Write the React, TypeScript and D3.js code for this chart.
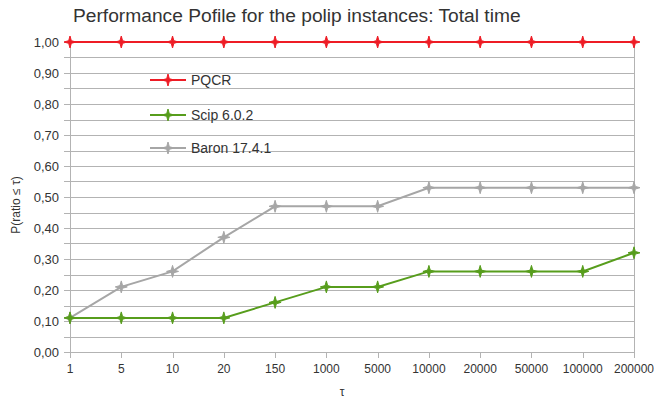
import { useEffect, useRef } from "react";
import * as d3 from "d3";

const categories = ["1", "5", "10", "20", "150", "1000", "5000", "10000", "20000", "50000", "100000", "200000"];
const pqcr = [1, 1, 1, 1, 1, 1, 1, 1, 1, 1, 1, 1];
const scip = [0.11, 0.11, 0.11, 0.11, 0.16, 0.21, 0.21, 0.26, 0.26, 0.26, 0.26, 0.32];
const baron = [0.11, 0.21, 0.26, 0.37, 0.47, 0.47, 0.47, 0.53, 0.53, 0.53, 0.53, 0.53];
const seriesNames = ["PQCR", "Scip 6.0.2", "Baron 17.4.1"];
const seriesColors = ["#ee1c25", "#579d1c", "#a6a6a6"];

const W = 654;
const H = 400;
const M = { top: 42, right: 20, bottom: 48, left: 70 };

// 4-point star marker like the spreadsheet one
const star4 = {
  draw(ctx: d3.Path, size: number) {
    const r = Math.sqrt(size);
    const k = r * 0.22;
    ctx.moveTo(0, -r);
    ctx.lineTo(k, -k);
    ctx.lineTo(r, 0);
    ctx.lineTo(k, k);
    ctx.lineTo(0, r);
    ctx.lineTo(-k, k);
    ctx.lineTo(-r, 0);
    ctx.lineTo(-k, -k);
    ctx.closePath();
  },
};

export default function App() {
  const ref = useRef<SVGSVGElement>(null);

  useEffect(() => {
    if (!ref.current) return;
    const svg = d3.select(ref.current);
    svg.selectAll("*").remove();

    const x = d3.scalePoint<string>().domain(categories).range([M.left, W - M.right]);
    const y = d3.scaleLinear().domain([0, 1]).range([H - M.bottom, M.top]);
    const font = "'Liberation Sans', Arial, sans-serif";

    // grid every 0.05
    const grid = d3.range(0, 21).map((i) => i * 0.05);
    svg.append("g")
      .selectAll("line")
      .data(grid)
      .enter()
      .append("line")
      .attr("x1", M.left - 6)
      .attr("x2", W - M.right)
      .attr("y1", (d) => Math.round(y(d)) + 0.5)
      .attr("y2", (d) => Math.round(y(d)) + 0.5)
      .attr("stroke", "#b3b3b3")
      .attr("stroke-width", 1);

    // axes lines
    svg.append("line")
      .attr("x1", M.left + 0.5).attr("x2", M.left + 0.5)
      .attr("y1", y(1)).attr("y2", y(0))
      .attr("stroke", "#b3b3b3");
    svg.append("line")
      .attr("x1", W - M.right + 0.5).attr("x2", W - M.right + 0.5)
      .attr("y1", y(1)).attr("y2", y(0))
      .attr("stroke", "#b3b3b3");

    // x ticks
    svg.append("g")
      .selectAll("line")
      .data(categories)
      .enter()
      .append("line")
      .attr("x1", (d) => Math.round(x(d)!) + 0.5)
      .attr("x2", (d) => Math.round(x(d)!) + 0.5)
      .attr("y1", y(0))
      .attr("y2", y(0) + 6)
      .attr("stroke", "#b3b3b3");

    svg.append("g")
      .selectAll("text")
      .data(categories)
      .enter()
      .append("text")
      .attr("x", (d) => x(d)!)
      .attr("y", y(0) + 21)
      .attr("text-anchor", "middle")
      .attr("font-family", font)
      .attr("font-size", 12)
      .attr("fill", "#333")
      .text((d) => d);

    // y labels
    const yTicks = d3.range(0, 11).map((i) => i / 10);
    svg.append("g")
      .selectAll("text")
      .data(yTicks)
      .enter()
      .append("text")
      .attr("x", M.left - 11)
      .attr("y", (d) => y(d) + 4.5)
      .attr("text-anchor", "end")
      .attr("font-family", font)
      .attr("font-size", 13)
      .attr("fill", "#333")
      .text((d) => d.toFixed(2).replace(".", ","));

    // series
    const data = [pqcr, scip, baron];
    const line = d3.line<number>()
      .x((_, i) => x(categories[i])!)
      .y((d) => y(d));
    const sym = d3.symbol().type(star4 as any).size(36);

    [2, 1, 0].forEach((s) => {
      const g = svg.append("g");
      g.append("path")
        .attr("d", line(data[s]))
        .attr("fill", "none")
        .attr("stroke", seriesColors[s])
        .attr("stroke-width", 2);
      g.selectAll("path.m")
        .data(data[s])
        .enter()
        .append("path")
        .attr("class", "m")
        .attr("transform", (d, i) => `translate(${x(categories[i])},${y(d)})`)
        .attr("d", sym()!)
        .attr("fill", seriesColors[s])
        .attr("stroke", seriesColors[s])
        .attr("stroke-width", 1);
    });

    // legend
    const legendY = [80, 115, 148];
    seriesNames.forEach((name, s) => {
      const g = svg.append("g").attr("transform", `translate(150,${legendY[s]})`);
      g.append("line")
        .attr("x1", 0).attr("x2", 36)
        .attr("y1", 0).attr("y2", 0)
        .attr("stroke", seriesColors[s])
        .attr("stroke-width", 2);
      g.append("path")
        .attr("transform", "translate(18,0)")
        .attr("d", sym()!)
        .attr("fill", seriesColors[s])
        .attr("stroke", seriesColors[s]);
      g.append("text")
        .attr("x", 41)
        .attr("y", 5)
        .attr("font-family", font)
        .attr("font-size", 14)
        .attr("fill", "#333")
        .text(name);
    });

    // title
    svg.append("text")
      .attr("x", 73)
      .attr("y", 22)
      .attr("font-family", font)
      .attr("font-size", 19.2)
      .attr("fill", "#333")
      .text("Performance Pofile for the polip instances: Total time");

    // axis titles
    svg.append("text")
      .attr("x", (M.left + W - M.right) / 2 - 10)
      .attr("y", 396)
      .attr("text-anchor", "middle")
      .attr("font-family", font)
      .attr("font-size", 12)
      .attr("fill", "#333")
      .text("τ");
    svg.append("text")
      .attr("transform", "translate(20,205) rotate(-90)")
      .attr("text-anchor", "middle")
      .attr("font-family", font)
      .attr("font-size", 12)
      .attr("fill", "#333")
      .text("P(ratio ≤ τ)");
  }, []);

  return (
    <svg
      ref={ref}
      width={W}
      height={H}
      style={{ position: "absolute", left: 0, top: 0, background: "#fff" }}
    />
  );
}
